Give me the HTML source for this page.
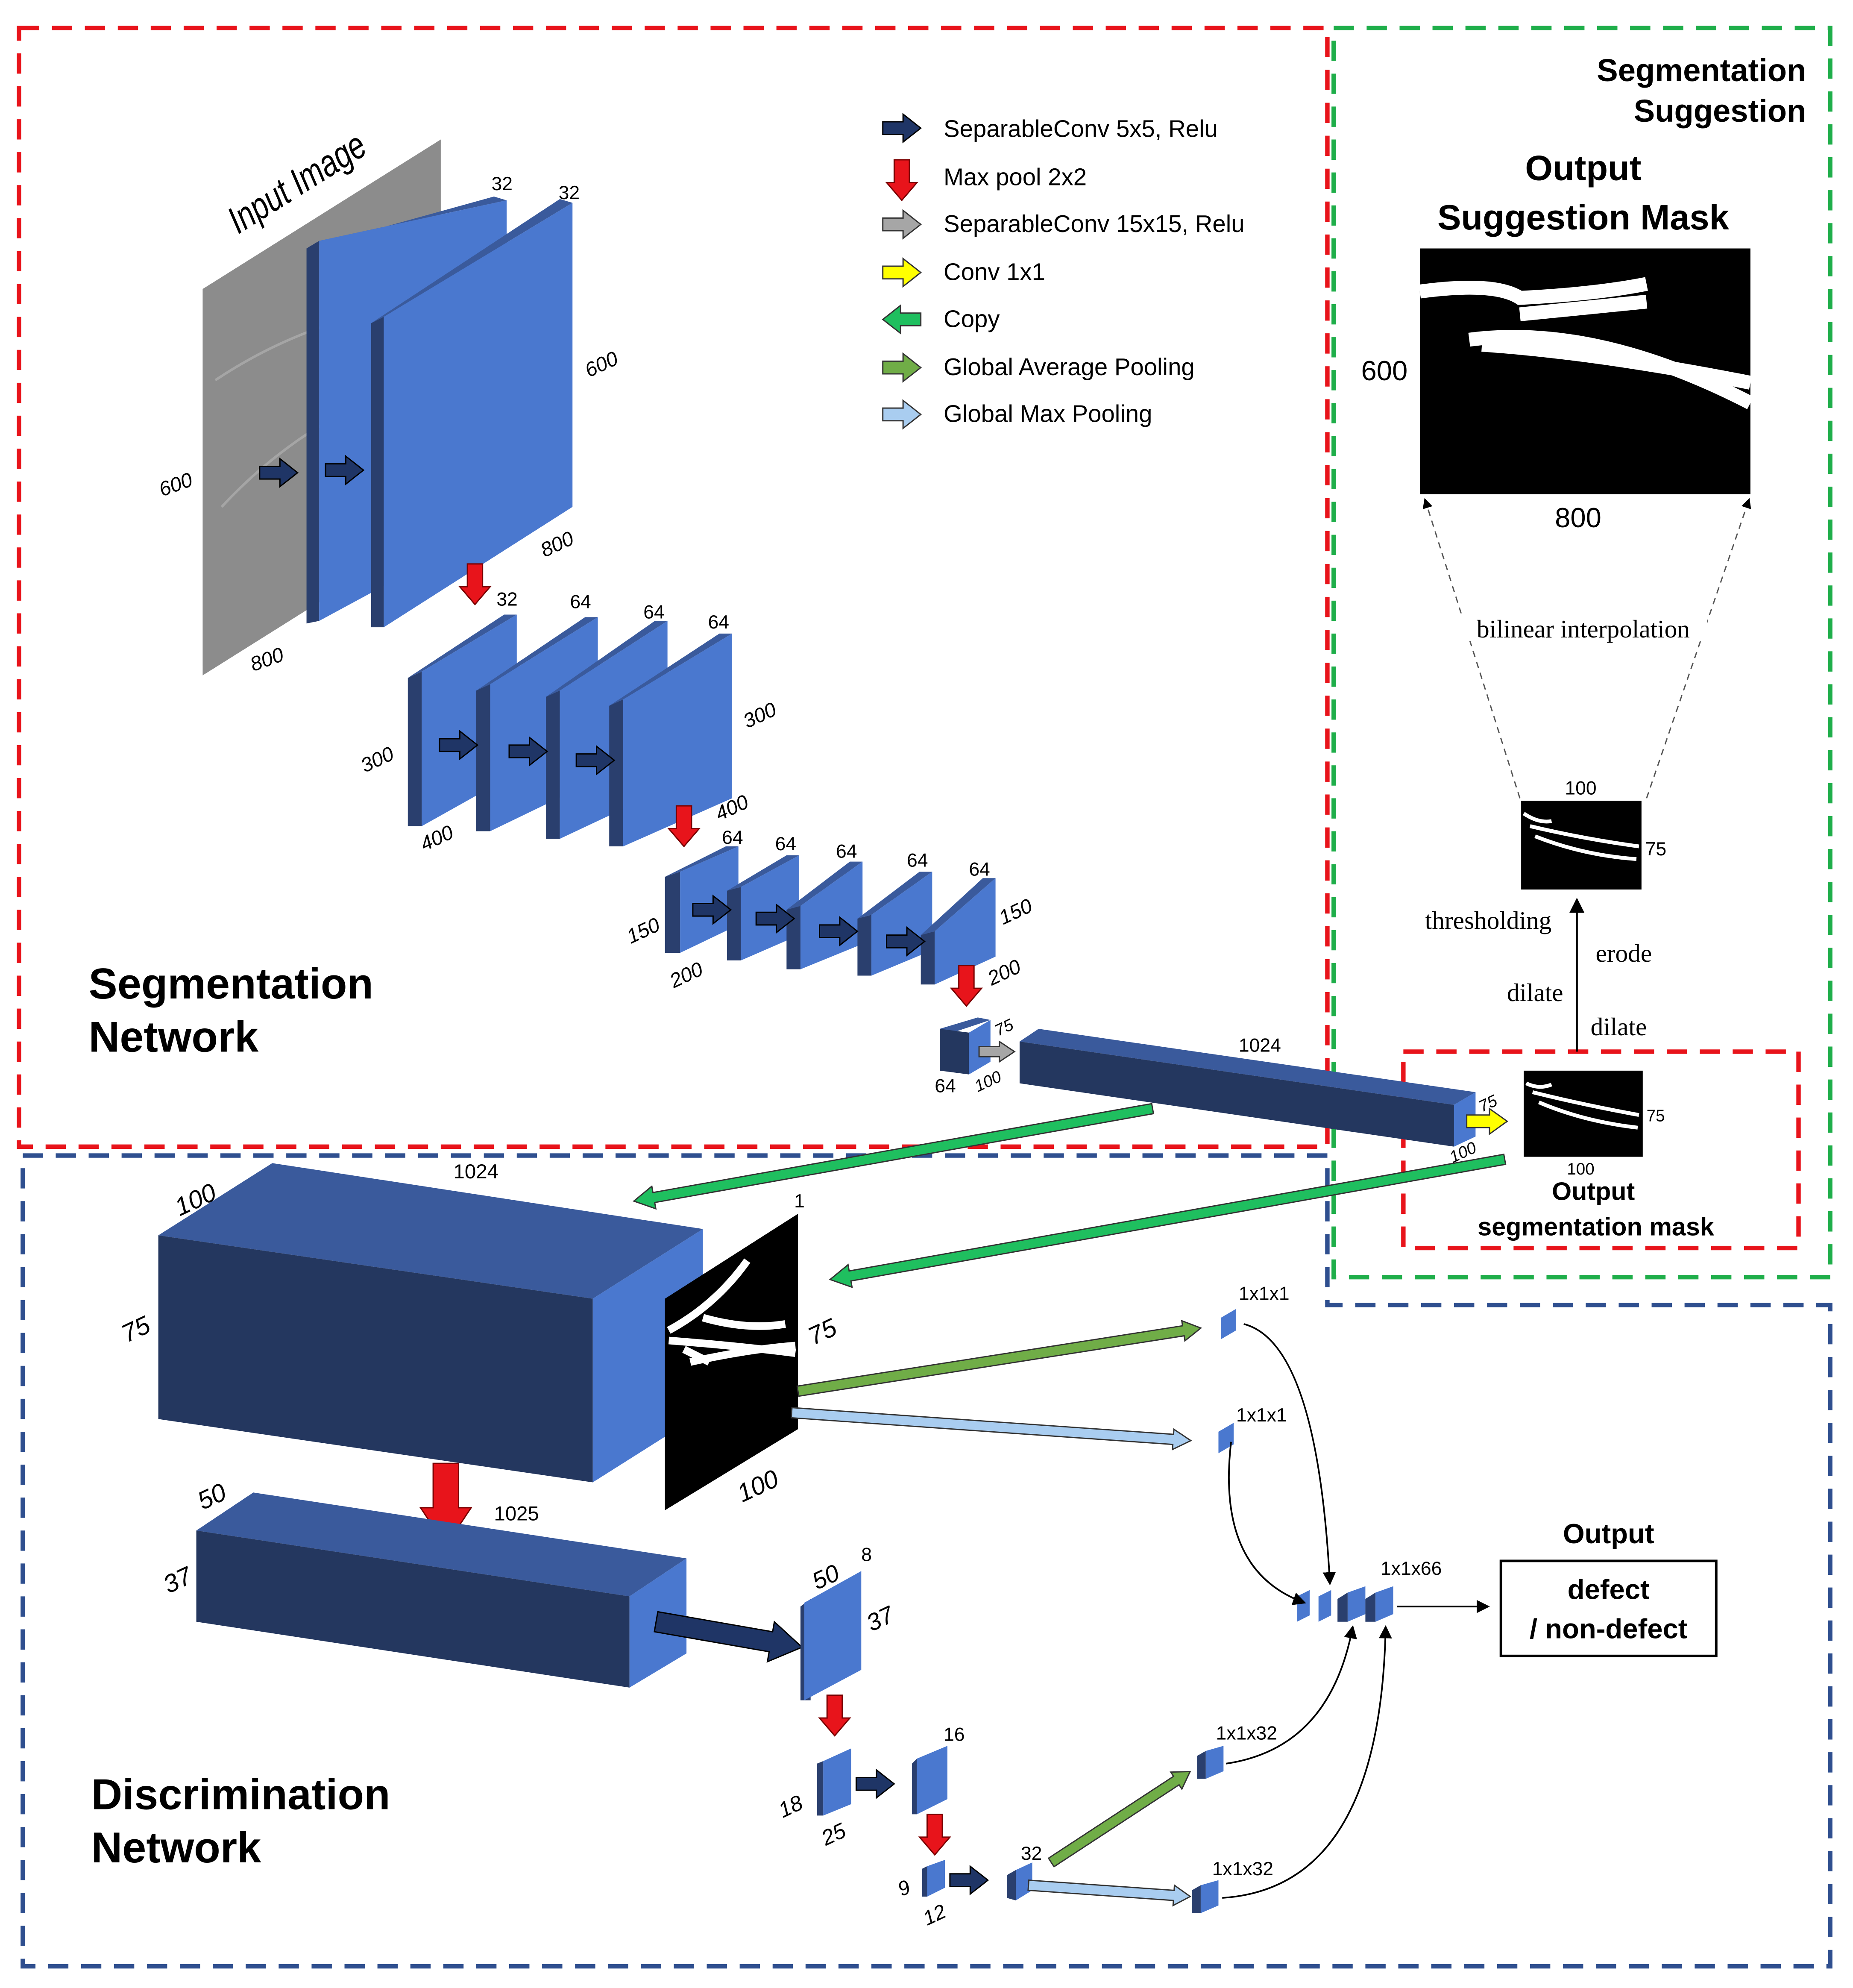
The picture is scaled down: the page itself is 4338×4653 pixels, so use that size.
<!DOCTYPE html>
<html><head><meta charset="utf-8"><style>
html,body{margin:0;padding:0;background:#fff;}
svg{display:block;}
text{font-family:"Liberation Sans",sans-serif;}
.s{font-family:"Liberation Serif",serif;}
.fr{fill:#4a78cf}.sd{fill:#2a3f6e}.tp{fill:#3a5a9c}
.dk{fill:#24375f}
</style></head><body>
<svg width="4338" height="4653" viewBox="0 0 1463 1569" xmlns="http://www.w3.org/2000/svg">
<defs>
<path id="na" d="M0,-5 H16 V-11 L30,0 L16,11 V5 H0 Z" fill="#1f3566" stroke="#000" stroke-width="1"/>
<path id="ra" d="M-6,0 H6 V18 H12 L0,32 L-12,18 H-6 Z" fill="#e8141b" stroke="#7a0000" stroke-width="1"/>
<marker id="ah" markerWidth="8" markerHeight="8" refX="7" refY="4" orient="auto"><path d="M0,0 L8,4 L0,8 Z" fill="#000"/></marker>
</defs>
<rect width="1463" height="1569" fill="#fff"/>

<rect x="15" y="22" width="1033" height="883" fill="none" stroke="#e8141b" stroke-width="3.5" stroke-dasharray="16,10"/>
<rect x="1053" y="22" width="392" height="986" fill="none" stroke="#1fae4a" stroke-width="3.5" stroke-dasharray="16,10"/>
<path d="M18,912 H1048 V1030 H1445 V1552 H18 Z" fill="none" stroke="#2f4f8f" stroke-width="3.5" stroke-dasharray="16,10"/>
<rect x="1108" y="830" width="312" height="155" fill="none" stroke="#e8141b" stroke-width="3.5" stroke-dasharray="16,10"/>

<polygon points="160,228 348,110 348,415 160,533" fill="#8c8c8c"/>
<path d="M170,300 Q230,260 300,245 M175,400 Q240,330 330,300" stroke="#a5a5a5" stroke-width="2" fill="none"/>
<text transform="translate(188,185) rotate(-32)" font-size="30" font-style="italic" textLength="122" lengthAdjust="spacingAndGlyphs">Input Image</text>
<text transform="translate(128,392) rotate(-20)" font-size="16" font-style="italic">600</text>
<text transform="translate(200,530) rotate(-20)" font-size="16" font-style="italic">800</text>

<polygon class="tp" points="242,196 390,155 400,158 252,190"/>
<polygon class="sd" points="242,196 252,190 252,490 242,492"/>
<polygon class="fr" points="252,190 400,158 400,410 252,490"/>
<polygon class="tp" points="293,255 442,157 452,160 303,250"/>
<polygon class="sd" points="293,255 303,250 303,495 293,495"/>
<polygon class="fr" points="303,250 452,160 452,400 303,495"/>
<use href="#na" x="205" y="373"/><use href="#na" x="257" y="371"/>
<text x="388" y="150" font-size="15">32</text><text x="441" y="157" font-size="15">32</text>
<text transform="translate(465,298) rotate(-25)" font-size="16" font-style="italic">600</text>
<text transform="translate(430,440) rotate(-25)" font-size="16" font-style="italic">800</text>
<use href="#ra" x="375" y="445"/>

<g>
<polygon class="tp" points="322,535 398,485 408,485 333,530"/><polygon class="sd" points="322,535 333,530 333,652 322,652"/><polygon class="fr" points="333,530 408,485 408,610 333,652"/>
<polygon class="tp" points="376,545 462,487 472,487 387,540"/><polygon class="sd" points="376,545 387,540 387,656 376,656"/><polygon class="fr" points="387,540 472,487 472,615 387,656"/>
<polygon class="tp" points="431,550 517,490 527,490 442,545"/><polygon class="sd" points="431,550 442,545 442,662 431,662"/><polygon class="fr" points="442,545 527,490 527,622 442,662"/>
<polygon class="tp" points="481,557 568,500 578,500 492,552"/><polygon class="sd" points="481,557 492,552 492,668 481,668"/><polygon class="fr" points="492,552 578,500 578,630 492,668"/>
</g>
<use href="#na" x="347" y="588"/><use href="#na" x="402" y="593"/><use href="#na" x="455" y="600"/>
<text x="392" y="478" font-size="15">32</text><text x="450" y="480" font-size="15">64</text><text x="508" y="488" font-size="15">64</text><text x="559" y="496" font-size="15">64</text>
<text transform="translate(288,610) rotate(-25)" font-size="16" font-style="italic">300</text>
<text transform="translate(335,672) rotate(-25)" font-size="16" font-style="italic">400</text>
<text transform="translate(590,575) rotate(-25)" font-size="16" font-style="italic">300</text>
<text transform="translate(568,648) rotate(-25)" font-size="16" font-style="italic">400</text>
<use href="#ra" x="540" y="636"/>

<g>
<polygon class="tp" points="525,692 573,668 583,668 537,688"/><polygon class="sd" points="525,692 537,688 537,752 525,752"/><polygon class="fr" points="537,688 583,668 583,730 537,752"/>
<polygon class="tp" points="574,703 621,675 631,675 585,700"/><polygon class="sd" points="574,703 585,700 585,758 574,758"/><polygon class="fr" points="585,700 631,675 631,738 585,758"/>
<polygon class="tp" points="621,718 671,680 681,680 632,715"/><polygon class="sd" points="621,718 632,715 632,765 621,765"/><polygon class="fr" points="632,715 681,680 681,745 632,765"/>
<polygon class="tp" points="677,725 726,688 736,688 688,722"/><polygon class="sd" points="677,725 688,722 688,770 677,770"/><polygon class="fr" points="688,722 736,688 736,750 688,770"/>
<polygon class="tp" points="727,738 776,693 786,693 738,735"/><polygon class="sd" points="727,738 738,735 738,777 727,777"/><polygon class="fr" points="738,735 786,693 786,755 738,777"/>
</g>
<use href="#na" x="547" y="718"/><use href="#na" x="597" y="725"/><use href="#na" x="647" y="735"/><use href="#na" x="700" y="743"/>
<text x="570" y="666" font-size="15">64</text><text x="612" y="671" font-size="15">64</text><text x="660" y="677" font-size="15">64</text><text x="716" y="684" font-size="15">64</text><text x="765" y="691" font-size="15">64</text>
<text transform="translate(498,745) rotate(-25)" font-size="16" font-style="italic">150</text>
<text transform="translate(532,780) rotate(-25)" font-size="16" font-style="italic">200</text>
<text transform="translate(792,730) rotate(-25)" font-size="16" font-style="italic">150</text>
<text transform="translate(783,778) rotate(-25)" font-size="16" font-style="italic">200</text>
<use href="#ra" x="763" y="762"/>

<polygon class="tp" points="742,812 772,803 782,805 752,815"/>
<polygon class="dk" points="742,812 765,815 765,848 742,845"/>
<polygon class="fr" points="765,815 782,805 782,838 765,848"/>
<text x="738" y="862" font-size="15">64</text>
<text transform="translate(788,818) rotate(-25)" font-size="13" font-style="italic">75</text>
<text transform="translate(772,862) rotate(-25)" font-size="13" font-style="italic">100</text>
<g transform="translate(773,830)"><path d="M0,-4 H16 V-8 L28,0 L16,8 V4 H0 Z" fill="#a6a6a6" stroke="#333"/></g>

<polygon class="tp" points="805,822 820,812 1165,862 1148,872"/>
<polygon class="dk" points="805,822 1148,872 1148,905 805,855"/>
<polygon class="fr" points="1148,872 1165,862 1165,897 1148,905"/>
<text x="978" y="830" font-size="15">1024</text>
<text transform="translate(1170,878) rotate(-25)" font-size="13" font-style="italic">75</text>
<text transform="translate(1147,918) rotate(-25)" font-size="13" font-style="italic">100</text>
<g transform="translate(1158,885)"><path d="M0,-5 H18 V-10 L32,0 L18,10 V5 H0 Z" fill="#ffff00" stroke="#333"/></g>

<use href="#na" x="697" y="101"/>
<use href="#ra" x="712" y="126"/>
<path d="M697,172 H713 V166 L727,177 L713,188 V182 H697 Z" fill="#a6a6a6" stroke="#333"/>
<path d="M697,210 H713 V204 L727,215 L713,226 V220 H697 Z" fill="#ffff00" stroke="#333"/>
<path d="M727,247 H711 V241 L697,252 L711,263 V257 H727 Z" fill="#1fbf5f" stroke="#333"/>
<path d="M697,285 H713 V279 L727,290 L713,301 V295 H697 Z" fill="#70ad47" stroke="#333"/>
<path d="M697,322 H713 V316 L727,327 L713,338 V332 H697 Z" fill="#a9cdf0" stroke="#333"/>
<g font-size="19">
<text x="745" y="108">SeparableConv 5x5, Relu</text>
<text x="745" y="146">Max pool 2x2</text>
<text x="745" y="183">SeparableConv 15x15, Relu</text>
<text x="745" y="221">Conv 1x1</text>
<text x="745" y="258">Copy</text>
<text x="745" y="296">Global Average Pooling</text>
<text x="745" y="333">Global Max Pooling</text>
</g>

<text x="70" y="788" font-size="34" font-weight="bold">Segmentation</text>
<text x="70" y="830" font-size="34" font-weight="bold">Network</text>

<text x="1426" y="64" font-size="25" font-weight="bold" text-anchor="end">Segmentation</text>
<text x="1426" y="96" font-size="25" font-weight="bold" text-anchor="end">Suggestion</text>
<text x="1250" y="142" font-size="28" font-weight="bold" text-anchor="middle">Output</text>
<text x="1250" y="181" font-size="28" font-weight="bold" text-anchor="middle">Suggestion Mask</text>
<rect x="1121" y="196" width="261" height="194" fill="#000"/>
<path d="M1121,230 Q1180,222 1200,235 Q1260,232 1300,224 M1160,268 Q1260,255 1382,318 M1170,272 Q1260,278 1382,302 M1200,248 L1300,238" stroke="#fff" stroke-width="11" fill="none"/>
<text x="1093" y="300" font-size="22" text-anchor="middle">600</text>
<text x="1246" y="416" font-size="22" text-anchor="middle">800</text>
<line x1="1200" y1="630" x2="1125" y2="394" stroke="#555" stroke-dasharray="5,4" marker-end="url(#ah)"/>
<line x1="1300" y1="630" x2="1381" y2="394" stroke="#555" stroke-dasharray="5,4" marker-end="url(#ah)"/>
<rect x="1148" y="484" width="200" height="22" fill="#fff"/>
<text class="s" x="1250" y="503" font-size="20" text-anchor="middle">bilinear interpolation</text>
<rect x="1201" y="632" width="95" height="70" fill="#000"/>
<path d="M1203,642 Q1215,650 1225,648 M1208,652 Q1250,662 1294,668 M1212,660 Q1250,675 1292,678" stroke="#fff" stroke-width="3" fill="none"/>
<text x="1248" y="627" font-size="15" text-anchor="middle">100</text>
<text x="1299" y="675" font-size="15">75</text>
<line x1="1245" y1="830" x2="1245" y2="710" stroke="#000" stroke-width="1.5" marker-end="url(#ah)"/>
<text class="s" x="1175" y="733" font-size="20" text-anchor="middle">thresholding</text>
<text class="s" x="1282" y="759" font-size="20" text-anchor="middle">erode</text>
<text class="s" x="1212" y="790" font-size="20" text-anchor="middle">dilate</text>
<text class="s" x="1278" y="817" font-size="20" text-anchor="middle">dilate</text>
<rect x="1203" y="845" width="94" height="68" fill="#000"/>
<path d="M1205,855 Q1215,860 1225,856 M1210,862 Q1250,872 1294,880 M1215,870 Q1250,885 1293,890" stroke="#fff" stroke-width="3" fill="none"/>
<text x="1300" y="885" font-size="13">75</text>
<text x="1248" y="927" font-size="13" text-anchor="middle">100</text>
<text x="1258" y="947" font-size="20" font-weight="bold" text-anchor="middle">Output</text>
<text x="1260" y="975" font-size="20" font-weight="bold" text-anchor="middle">segmentation mask</text>

<g transform="translate(910,875) rotate(169.9)"><path d="M0,-4 H400 V-9 L416,0 L400,9 V4 H0 Z" fill="#1fbf5f" stroke="#333"/></g>
<g transform="translate(1188,915) rotate(169.9)"><path d="M0,-4 H525 V-9 L541,0 L525,9 V4 H0 Z" fill="#1fbf5f" stroke="#333"/></g>

<polygon class="tp" points="125,975 215,918 555,970 468,1025"/>
<polygon class="dk" points="125,975 468,1025 468,1170 125,1120"/>
<polygon class="fr" points="468,1025 555,970 555,1115 468,1170"/>
<polygon points="525,1025 630,958 630,1128 525,1192" fill="#000"/>
<path d="M528,1050 Q565,1030 590,995 M528,1058 Q580,1062 628,1068 M545,1075 Q590,1065 628,1062 M555,1040 Q590,1050 620,1045 M540,1065 L560,1075" stroke="#fff" stroke-width="6" fill="none"/>
<text transform="translate(142,960) rotate(-25)" font-size="20" font-style="italic">100</text>
<text x="358" y="930" font-size="16">1024</text>
<text x="627" y="953" font-size="15">1</text>
<text transform="translate(100,1060) rotate(-25)" font-size="20" font-style="italic">75</text>
<text transform="translate(642,1062) rotate(-25)" font-size="20" font-style="italic">75</text>
<text transform="translate(586,1186) rotate(-25)" font-size="20" font-style="italic">100</text>

<g transform="translate(352,1155)"><path d="M-10,0 H10 V35 H20 L0,65 L-20,35 H-10 Z" fill="#e8141b" stroke="#7a0000"/></g>

<polygon class="tp" points="155,1208 200,1178 542,1230 497,1260"/>
<polygon class="dk" points="155,1208 497,1260 497,1332 155,1280"/>
<polygon class="fr" points="497,1260 542,1230 542,1305 497,1332"/>
<text transform="translate(160,1192) rotate(-25)" font-size="20" font-style="italic">50</text>
<text x="390" y="1200" font-size="16">1025</text>
<text transform="translate(133,1258) rotate(-25)" font-size="20" font-style="italic">37</text>
<g transform="translate(518,1280) rotate(9.9)"><path d="M0,-8 H92 V-16 L117,0 L92,16 V8 H0 Z" fill="#1f3566" stroke="#000"/></g>

<polygon class="sd" points="632,1268 640,1262 640,1342 632,1342"/>
<polygon class="fr" points="635,1265 680,1240 680,1318 635,1342"/>
<text transform="translate(645,1255) rotate(-25)" font-size="19" font-style="italic">50</text>
<text x="680" y="1232" font-size="15">8</text>
<text transform="translate(688,1288) rotate(-25)" font-size="19" font-style="italic">37</text>
<use href="#ra" x="659" y="1338"/>

<polygon class="sd" points="645,1392 650,1390 650,1433 645,1433"/>
<polygon class="fr" points="650,1390 672,1380 672,1424 650,1433"/>
<text transform="translate(618,1435) rotate(-25)" font-size="17" font-style="italic">18</text>
<text transform="translate(652,1457) rotate(-25)" font-size="17" font-style="italic">25</text>
<use href="#na" x="676" y="1408"/>
<polygon class="sd" points="720,1392 724,1388 724,1432 720,1432"/>
<polygon class="fr" points="724,1388 748,1378 748,1420 724,1432"/>
<text x="745" y="1374" font-size="15">16</text>
<use href="#ra" x="738" y="1432"/>

<polygon class="sd" points="728,1475 732,1473 732,1497 728,1497"/>
<polygon class="fr" points="732,1473 746,1468 746,1490 732,1497"/>
<text transform="translate(712,1497) rotate(-25)" font-size="16" font-style="italic">9</text>
<text transform="translate(732,1520) rotate(-25)" font-size="16" font-style="italic">12</text>
<use href="#na" x="750" y="1484"/>
<polygon class="sd" points="795,1480 802,1476 802,1500 795,1498"/>
<polygon class="fr" points="802,1476 815,1470 815,1492 802,1500"/>
<text x="806" y="1468" font-size="15">32</text>
<g transform="translate(830,1470) rotate(-33.2)"><path d="M0,-4 H118 V-8 L131,0 L118,8 V4 H0 Z" fill="#70ad47" stroke="#333"/></g>
<g transform="translate(812,1488) rotate(4)"><path d="M0,-4 H115 V-8 L128,0 L115,8 V4 H0 Z" fill="#a9cdf0" stroke="#333"/></g>

<g transform="translate(630,1098) rotate(-8.9)"><path d="M0,-4 H308 V-8 L322,0 L308,8 V4 H0 Z" fill="#70ad47" stroke="#333"/></g>
<g transform="translate(625,1115) rotate(4)"><path d="M0,-4 H302 V-8 L316,0 L302,8 V4 H0 Z" fill="#a9cdf0" stroke="#333"/></g>

<polygon class="fr" points="964,1040 976,1033 976,1050 964,1057"/>
<text x="978" y="1026" font-size="15">1x1x1</text>
<polygon class="fr" points="962,1130 974,1123 974,1140 962,1147"/>
<text x="976" y="1122" font-size="15">1x1x1</text>
<polygon class="sd" points="945,1386 952,1382 952,1404 945,1404"/><polygon class="fr" points="952,1382 966,1378 966,1398 952,1404"/>
<text x="960" y="1373" font-size="15">1x1x32</text>
<polygon class="sd" points="941,1492 948,1488 948,1510 941,1510"/><polygon class="fr" points="948,1488 962,1484 962,1504 948,1510"/>
<text x="957" y="1480" font-size="15">1x1x32</text>

<polygon class="fr" points="1024,1260 1034,1255 1034,1275 1024,1280"/>
<polygon class="fr" points="1041,1260 1051,1255 1051,1275 1041,1280"/>
<polygon class="sd" points="1056,1262 1064,1257 1064,1280 1056,1280"/><polygon class="fr" points="1064,1257 1078,1252 1078,1274 1064,1280"/>
<polygon class="sd" points="1078,1262 1086,1257 1086,1280 1078,1280"/><polygon class="fr" points="1086,1257 1100,1252 1100,1274 1086,1280"/>
<text x="1090" y="1243" font-size="15">1x1x66</text>
<g fill="none" stroke="#000" stroke-width="1.3" marker-end="url(#ah)">
<path d="M982,1045 Q1040,1060 1050,1250"/>
<path d="M972,1138 Q960,1240 1030,1265"/>
<path d="M968,1392 Q1050,1380 1068,1284"/>
<path d="M965,1498 Q1090,1490 1094,1284"/>
<line x1="1103" y1="1268" x2="1175" y2="1268"/>
</g>
<text x="1270" y="1218" font-size="22" font-weight="bold" text-anchor="middle">Output</text>
<rect x="1185" y="1232" width="170" height="75" fill="#fff" stroke="#000" stroke-width="2"/>
<text x="1270" y="1262" font-size="22" font-weight="bold" text-anchor="middle">defect</text>
<text x="1270" y="1293" font-size="22" font-weight="bold" text-anchor="middle">/ non-defect</text>

<text x="72" y="1428" font-size="34" font-weight="bold">Discrimination</text>
<text x="72" y="1470" font-size="34" font-weight="bold">Network</text>
</svg>
</body></html>
